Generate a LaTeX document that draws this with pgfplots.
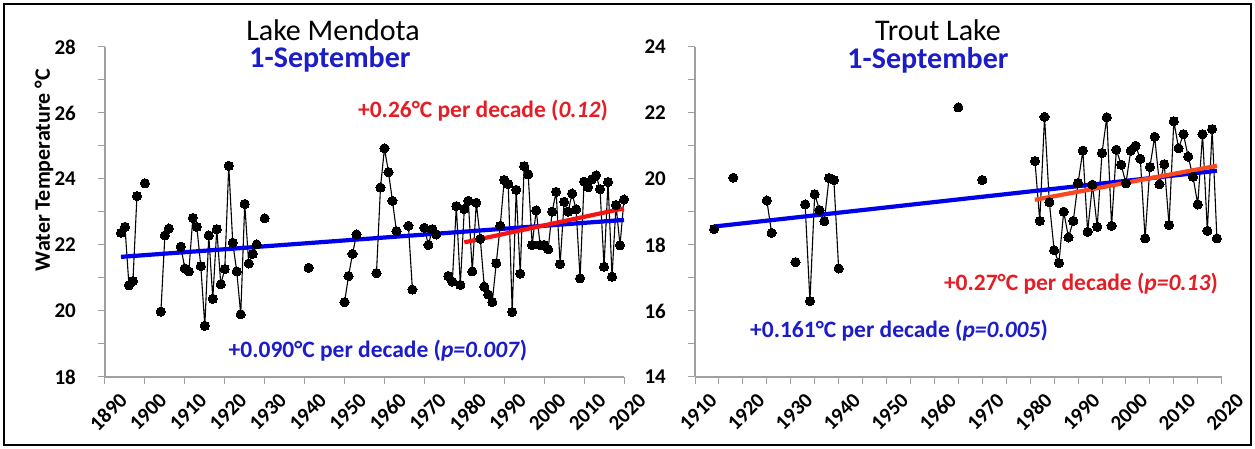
\documentclass[border=0pt]{standalone}
\usepackage{pgfplots}
\usepackage{pgfplotstable}
\pgfplotsset{compat=1.18}
\usepackage{fontspec}
\setmainfont{Carlito}

\definecolor{trendblue}{RGB}{0,0,235}
\definecolor{textblue}{RGB}{28,28,200}
\definecolor{trendred}{RGB}{245,20,20}
\definecolor{trendorange}{RGB}{252,72,30}
\definecolor{textred}{RGB}{228,30,36}
\definecolor{axisgray}{RGB}{160,160,160}

\newcommand{\tickfont}{\fontsize{21}{21}\selectfont\bfseries}
\newcommand{\titlefont}{\fontsize{30}{30}\selectfont}
\newcommand{\notefont}{\fontsize{23.5}{24}\selectfont\bfseries}

% 1-September surface water temperature, Lake Mendota (nan = no record)
\pgfplotstableread{
year temp
1894 22.37
1895 22.55
1896 20.78
1897 20.91
1898 23.48
1899 nan
1900 23.87
1901 nan
1904 19.98
1905 22.29
1906 22.50
1907 nan
1909 21.95
1910 21.29
1911 21.20
1912 22.82
1913 22.55
1914 21.36
1915 19.55
1916 22.29
1917 20.37
1918 22.48
1919 20.81
1920 21.27
1921 24.40
1922 22.07
1923 21.20
1924 19.90
1925 23.24
1926 21.44
1927 21.73
1928 22.02
1929 nan
1930 22.81
1931 nan
1941 21.31
1942 nan
1950 20.27
1951 21.06
1952 21.73
1953 22.32
1954 nan
1958 21.15
1959 23.74
1960 24.93
1961 24.21
1962 23.34
1963 22.42
1964 nan
1966 22.58
1967 20.65
1968 nan
1970 22.52
1971 22.00
1972 22.48
1973 22.32
1974 nan
1976 21.06
1977 20.89
1978 23.18
1979 20.79
1980 23.09
1981 23.34
1982 21.20
1983 23.28
1984 22.19
1985 20.74
1986 20.50
1987 20.27
1988 21.45
1989 22.58
1990 23.97
1991 23.85
1992 19.97
1993 23.67
1994 21.13
1995 24.39
1996 24.14
1997 22.00
1998 23.05
1999 22.00
2000 22.00
2001 21.87
2002 23.01
2003 23.61
2004 21.42
2005 23.31
2006 23.01
2007 23.56
2008 23.08
2009 20.99
2010 23.92
2011 23.75
2012 23.99
2013 24.11
2014 23.69
2015 21.34
2016 23.91
2017 21.04
2018 23.21
2019 21.99
2020 23.38
}\mendota

% 1-September surface water temperature, Trout Lake (nan = no record)
\pgfplotstableread{
year temp
1914 18.48
1915 nan
1918 20.04
1919 nan
1925 19.35
1926 18.37
1927 nan
1931 17.48
1932 nan
1933 19.23
1934 16.30
1935 19.54
1936 19.06
1937 18.72
1938 20.03
1939 19.97
1940 17.29
1941 nan
1965 22.17
1966 nan
1970 19.97
1971 nan
1981 20.54
1982 18.73
1983 21.88
1984 19.30
1985 17.84
1986 17.45
1987 19.01
1988 18.23
1989 18.73
1990 19.88
1991 20.86
1992 18.40
1993 19.83
1994 18.55
1995 20.79
1996 21.87
1997 18.58
1998 20.89
1999 20.43
2000 19.87
2001 20.86
2002 21.01
2003 20.61
2004 18.20
2005 20.36
2006 21.28
2007 19.84
2008 20.45
2009 18.61
2010 21.75
2011 20.93
2012 21.36
2013 20.68
2014 20.07
2015 19.23
2016 21.36
2017 18.43
2018 21.51
2019 18.20
}\trout

\pgfplotsset{
  lakeaxis/.style={
    scale only axis,
    anchor=south west,
    clip=false,
    axis x line*=bottom,
    axis y line*=left,
    axis line style={axisgray, line width=1.3pt},
    tick style={axisgray, line width=1pt},
    tick align=outside,
    major tick length=7pt,
    minor tick length=7pt,
    ytick distance=2,
    minor y tick num=1,
    xtick distance=10,
    unbounded coords=jump,
    /pgf/number format/1000 sep={},
    /pgf/number format/assume math mode=true,
    yticklabel style={font=\tickfont, anchor=east, inner sep=0pt, xshift=-22pt},
    xticklabel style={font=\tickfont, rotate=45, anchor=east, inner sep=0pt,
                      xshift=4pt, yshift=-22pt},
  },
  obs/.style={black, line width=1.1pt, mark=*, mark size=4.6pt,
              mark options={fill=black, draw=black, line width=0pt}},
  trend/.style={line width=4.2pt, no marks},
}

\begin{document}
\begin{tikzpicture}[x=1pt, y=1pt]
\useasboundingbox (0,0) rectangle (1255,449);
\draw[line width=2pt] (4,4) rectangle (1251,445);

% Lake Mendota
\begin{axis}[lakeaxis, at={(105pt,72pt)}, width=519pt, height=330pt,
             xmin=1890, xmax=2020, ymin=18, ymax=28]
  \addplot[obs] table[x=year, y=temp] {\mendota};
  \addplot[trend, trendblue] coordinates {(1894,21.64) (2020,22.76)};
  \addplot[trend, trendred] coordinates {(1980,22.08) (2020,23.11)};
\end{axis}

% Trout Lake
\begin{axis}[lakeaxis, at={(695pt,72pt)}, width=526.7pt, height=330pt,
             xmin=1910, xmax=2020, ymin=14, ymax=24, minor x tick num=1]
  \addplot[obs] table[x=year, y=temp] {\trout};
  \addplot[trend, trendblue] coordinates {(1914,18.56) (2019,20.25)};
  \addplot[trend, trendorange] coordinates {(1981,19.37) (2019,20.40)};
\end{axis}

% y-axis title
\node[rotate=90, font=\fontsize{22}{22}\selectfont\bfseries] at (44,279) {Water Temperature °C};

% panel titles
\node[anchor=base, font=\titlefont] at (333,408.5) {Lake Mendota};
\node[anchor=base, font=\titlefont\bfseries, text=textblue] at (330,381) {1-September};
\node[anchor=base, font=\titlefont] at (938,408.5) {Trout Lake};
\node[anchor=base, font=\titlefont\bfseries, text=textblue] at (928,380) {1-September};

% trend annotations
\node[anchor=base, font=\notefont, text=textred] at (483,331.5)
  {+0.26°C per decade (\textit{0.12})};
\node[anchor=base, font=\notefont, text=textblue] at (378,91.5)
  {+0.090°C per decade (\textit{p=0.007})};
\node[anchor=base, font=\notefont, text=textred] at (1081,158.5)
  {+0.27°C per decade (\textit{p=0.13})};
\node[anchor=base, font=\notefont, text=textblue] at (899,111.5)
  {+0.161°C per decade (\textit{p=0.005})};
\end{tikzpicture}
\end{document}
